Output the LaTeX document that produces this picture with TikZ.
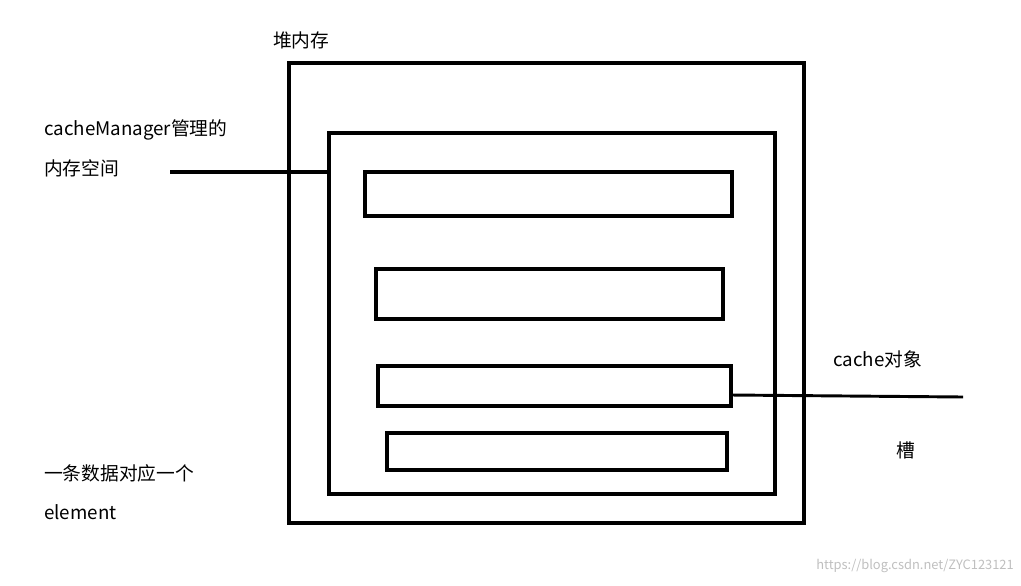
\documentclass[tikz,border=0pt]{standalone}
\usepackage{fontspec}
\setmainfont{Noto Sans CJK SC}
\begin{document}
\begin{tikzpicture}[x=0.03cm,y=-0.03cm,
  thick box/.style={line width=3.4pt},
  lbl/.style={anchor=west,inner sep=0,font=\fontsize{16}{18}\selectfont}]
\useasboundingbox (0,0) rectangle (1021,585);
\draw[thick box] (289,63) rectangle (804,523);
\draw[thick box] (329,133) rectangle (775,494);
\draw[thick box] (365,172) rectangle (732,216);
\draw[thick box] (376,269) rectangle (723,319);
\draw[thick box] (378,366) rectangle (731,406);
\draw[thick box] (387,433) rectangle (727,470);
\coordinate (a) at (170,172); \coordinate (b) at (329,172);
\draw[thick box] (a) -- (b);
\coordinate (c) at (731,395); \coordinate (d) at (963,397);
\draw[line width=2.5pt] (c) -- (d);
\node[lbl] (t1) at (273,40) {堆内存};
\node[lbl] (t2) at (44,130) {cacheManager管理的};
\node[lbl] (t3) at (44,168) {内存空间};
\node[lbl] (t4) at (833,359) {cache对象};
\node[lbl] (t5) at (896,450) {槽};
\node[lbl] (t6) at (44,473) {一条数据对应一个};
\node[lbl] (t7) at (44,512) {element};
\node[anchor=east,inner sep=0,text=black!25,font=\fontsize{11}{12}\selectfont] (w) at (1014,566) {https://blog.csdn.net/ZYC123121};
\end{tikzpicture}
\end{document}
